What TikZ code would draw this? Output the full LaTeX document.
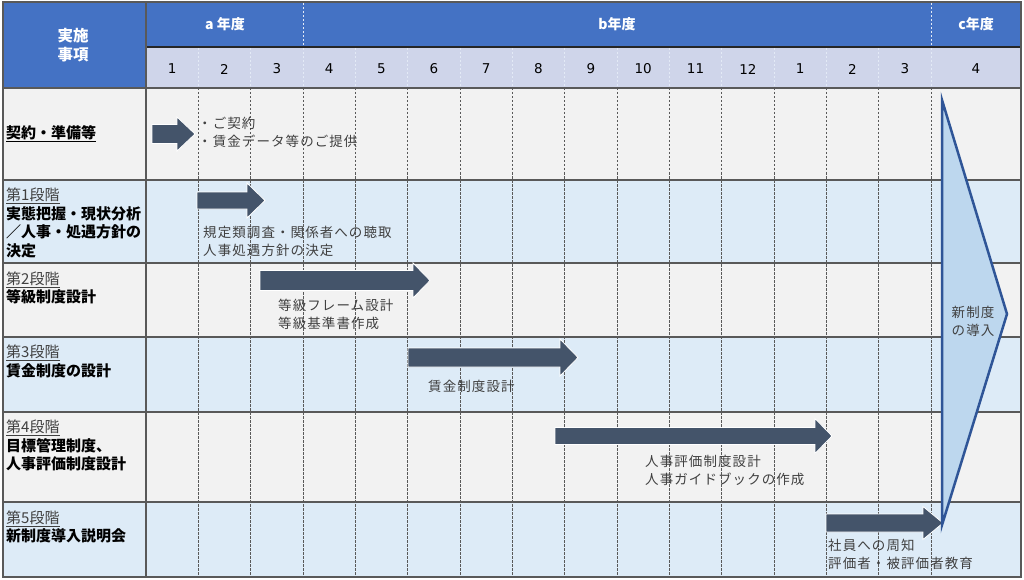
\documentclass[tikz,border=0pt]{standalone}
\usepackage{fontspec}
\setmainfont{Noto Sans CJK JP}
\newfontfamily\numfont{DejaVu Sans}
\definecolor{hdrblue}{HTML}{4472C4}
\definecolor{monthbg}{HTML}{CFD5EA}
\definecolor{rowgray}{HTML}{F2F2F2}
\definecolor{rowblue}{HTML}{DDEBF7}
\definecolor{arrowc}{HTML}{44546A}
\definecolor{trifill}{HTML}{BDD7EE}
\definecolor{triline}{HTML}{2F5597}
\definecolor{gridc}{HTML}{595959}
\definecolor{txtc}{HTML}{404040}
\tikzset{
  barrow/.style={fill=arrowc, draw=white, line width=0.8pt, line join=miter},
  notetext/.style={text=txtc, font=\fontsize{13.5}{18}\selectfont\addfontfeature{LetterSpace=8}, anchor=west, inner sep=0pt, align=left},
  stagetext/.style={text=black, font=\fontsize{15}{18.4}\selectfont\bfseries, anchor=west, inner sep=0pt, align=left},
  hdrtext/.style={text=white, font=\fontsize{14}{19}\selectfont\bfseries, inner sep=0pt, align=center},
  monthtext/.style={text=black, font=\fontsize{13.5}{14}\numfont, inner sep=0pt},
  rowline/.style={draw=gridc, line width=1.2pt},
  griddash/.style={draw=gridc, line width=0.8pt, dash pattern=on 2.5pt off 1.5pt},
  hdrdash/.style={draw=white!85!hdrblue, line width=0.7pt, dash pattern=on 2.5pt off 1.5pt}
}
\newcommand{\GArrow}[6]{%
  \fill[barrow] (#1,{#4-#5}) -- (#2,{#4-#5}) -- (#2,{#4-#6}) -- (#3,#4) -- (#2,{#4+#6}) -- (#2,{#4+#5}) -- (#1,{#4+#5}) -- cycle;}
\newcommand{\stagehd}[1]{{\mdseries\color{txtc}\underline{#1}}}
\begin{document}
\begin{tikzpicture}[x=1pt,y=-1pt]
\useasboundingbox (0,0) rectangle (1024,580);
\fill[white] (0,0) rectangle (1024,580);
% header
\fill[hdrblue] (3,2) rectangle (146,88);
\fill[hdrblue] (146,2) rectangle (1021,47);
\fill[monthbg] (146,47) rectangle (1021,88);
% rows
\fill[rowgray] (3,88) rectangle (1021,180);
\fill[rowblue] (3,180) rectangle (1021,263);
\fill[rowgray] (3,263) rectangle (1021,337);
\fill[rowblue] (3,337) rectangle (1021,412);
\fill[rowgray] (3,412) rectangle (1021,502);
\fill[rowblue] (3,502) rectangle (1021,577);
% dashed verticals
\foreach \k in {1,...,15} {
  \draw[griddash] ({146+52.333*\k},88) -- ({146+52.333*\k},577);
  \draw[hdrdash] ({146+52.333*\k},48) -- ({146+52.333*\k},87);
}
\draw[hdrdash] (303,3) -- (303,46);
\draw[hdrdash] (931,3) -- (931,46);
% horizontal lines
\draw[draw=black!85, line width=1.3pt] (146,47) -- (1021,47);
\foreach \yy in {88,180,263,337,412,502} {
  \draw[rowline] (3,\yy) -- (1021,\yy);
}
\draw[rowline] (146,2) -- (146,577);
\draw[draw=gridc, line width=2pt] (2.5,2) rectangle (1021,577);
% header texts
\node[hdrtext, font=\fontsize{15.5}{19}\selectfont\bfseries] (hdr) at (73,45.5) {実施\\事項};
\node[hdrtext] (ya) at (225,24) {a 年度};
\node[hdrtext] (yb) at (617,24) {b年度};
\node[hdrtext] (yc) at (976,24) {c年度};
\foreach \m [count=\i] in {1,2,3,4,5,6,7,8,9,10,11,12,1,2,3} {
  \node[monthtext] (m\i) at ({146+52.333*(\i-0.5)},69) {\m};
}
\node[monthtext] (m16) at (976,69) {4};
% stage labels
\node[stagetext] (s0) at (6,134) {\underline{契約・準備等}};
\node[stagetext] (s1) at (6,223) {\stagehd{第1段階}\\実態把握・現状分析\\／人事・処遇方針の\\決定};
\node[stagetext] (s2) at (6,288) {\stagehd{第2段階}\\等級制度設計};
\node[stagetext] (s3) at (6,361.5) {\stagehd{第3段階}\\賃金制度の設計};
\node[stagetext] (s4) at (6,445.5) {\stagehd{第4段階}\\目標管理制度、\\人事評価制度設計};
\node[stagetext] (s5) at (6,527) {\stagehd{第5段階}\\新制度導入説明会};
% arrows
\GArrow{152}{177}{195}{134}{9.5}{17}
\GArrow{197}{247}{265}{200.5}{8.5}{17.5}
\GArrow{260}{413}{430}{280.5}{10}{17.5}
\GArrow{408}{560}{578}{357.5}{9.5}{18.5}
\GArrow{555}{815}{832}{436}{8.5}{17.5}
\GArrow{826}{923}{943}{523}{9}{16.5}
% big triangle
\draw[fill=trifill, draw=triline, line width=2.5pt, line join=miter] (942,100) -- (1007,314) -- (942,525) -- cycle;
\node[notetext, anchor=center, align=left] (intro) at (973,321) {新制度\\の導入};
% notes
\node[notetext] (n0) at (198,132.5) {・ご契約\\・賃金データ等のご提供};
\node[notetext] (n1) at (203,241.5) {規定類調査・関係者への聴取\\人事処遇方針の決定};
\node[notetext] (n2) at (278,314) {等級フレーム設計\\等級基準書作成};
\node[notetext] (n3) at (428,386) {賃金制度設計};
\node[notetext] (n4) at (645,470.5) {人事評価制度設計\\人事ガイドブックの作成};
\node[notetext] (n5) at (828,554) {社員への周知\\評価者・被評価者教育};
\end{tikzpicture}
\end{document}
